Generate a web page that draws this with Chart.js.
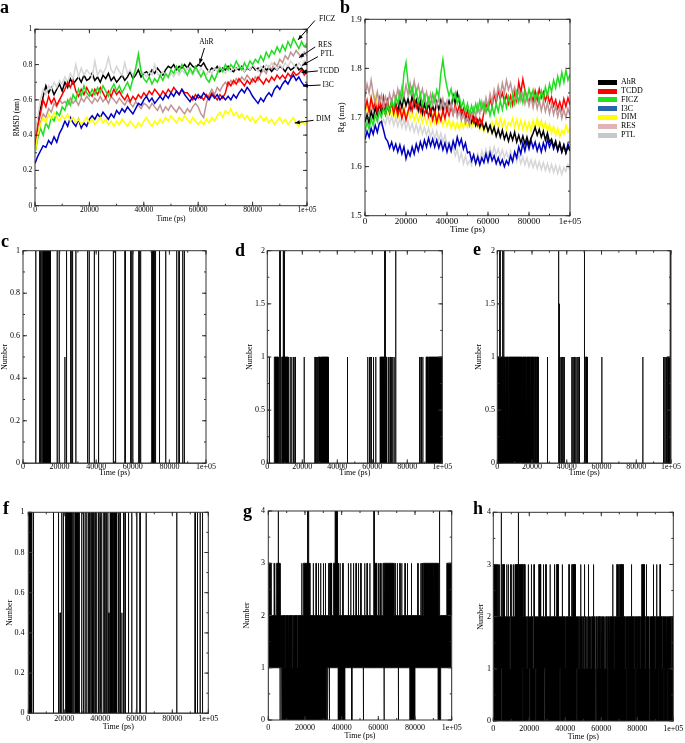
<!DOCTYPE html>
<html>
<head>
<meta charset="utf-8">
<script src="https://cdn.jsdelivr.net/npm/chart.js@4.4.1/dist/chart.umd.min.js"></script>
<style>
    body { margin: 0; background: #fff; }
    #page { position: relative; width: 685px; height: 743px; overflow: hidden; font-family: "Liberation Serif", serif; }
    #page canvas { position: absolute; }
    .tag { position: absolute; font-weight: bold; font-size: 18px; line-height: 1; }
    .leg { position: absolute; font-size: 8px; line-height: 8px; }
    .sw { position: absolute; width: 19px; height: 5px; }
</style>
</head>
<body>
<div id="page"></div>
<script>
// Temps (ps) : une image toutes les 1000 ps
const frameTimes = [];
for (let i = 0; i <= 100; i++) frameTimes.push(i * 1000);

const timeTickLabels = ["0", "20000", "40000", "60000", "80000", "1e+05"];
const rmsdTickLabels = ["0", "0.2", "0.4", "0.6", "0.8", "1"];
const rgTickLabels = ["1.5", "1.6", "1.7", "1.8", "1.9"];
const unitTickLabels = ["0", "0.2", "0.4", "0.6", "0.8", "1"];
const halfTickLabels = ["0", "0.5", "1", "1.5", "2"];
const fourTickLabels = ["0", "1", "2", "3", "4"];

const seriesNames = ["AhR", "TCDD", "FICZ", "I3C", "DIM", "RES", "PTL"];
const lineColors = ["#000000", "#ff0000", "#22dd22", "#0000c0", "#ffff00", "#c09494", "#d6d6d6"];
const legendColors = ["#000000", "#ff0000", "#22e022", "#2b64a8", "#ffff00", "#e0b4b4", "#c8c8c8"];
// ordre de tracé (1 = dessus)
const rmsdOrder = [6, 4, 3, 2, 1, 7, 5];
const rgOrder = [4, 3, 1, 6, 5, 2, 7];

// RMSD (nm)
const rmsdAhR = [0.35, 0.48, 0.55, 0.62, 0.68, 0.64, 0.67, 0.63, 0.66, 0.69, 0.65,
    0.70, 0.67, 0.72, 0.69, 0.71, 0.73, 0.70, 0.74, 0.71, 0.72,
    0.75, 0.71, 0.73, 0.70, 0.74, 0.72, 0.75, 0.71, 0.73, 0.70,
    0.72, 0.74, 0.71, 0.73, 0.76, 0.72, 0.74, 0.77, 0.73, 0.75,
    0.76, 0.74, 0.77, 0.75, 0.78, 0.76, 0.74, 0.77, 0.79, 0.78,
    0.80, 0.77, 0.79, 0.78, 0.80, 0.78, 0.81, 0.79, 0.78, 0.80,
    0.79, 0.81, 0.78, 0.76, 0.78, 0.77, 0.79, 0.76, 0.78, 0.77,
    0.79, 0.77, 0.76, 0.78, 0.77, 0.79, 0.76, 0.78, 0.77, 0.79,
    0.77, 0.78, 0.76, 0.79, 0.77, 0.78, 0.76, 0.78, 0.77, 0.79,
    0.78, 0.76, 0.79, 0.77, 0.78, 0.80, 0.77, 0.78, 0.76, 0.77];
const rmsdTCDD = [0.33, 0.45, 0.52, 0.60, 0.56, 0.62, 0.58, 0.61, 0.57, 0.60, 0.63,
    0.66, 0.70, 0.67, 0.71, 0.65, 0.62, 0.66, 0.63, 0.67, 0.64,
    0.62, 0.66, 0.63, 0.67, 0.64, 0.61, 0.65, 0.62, 0.66, 0.63,
    0.65, 0.62, 0.60, 0.63, 0.59, 0.62, 0.60, 0.63, 0.61, 0.64,
    0.62, 0.65, 0.63, 0.66, 0.64, 0.62, 0.65, 0.63, 0.66, 0.64,
    0.67, 0.65, 0.63, 0.66, 0.64, 0.64, 0.62, 0.60, 0.63, 0.61,
    0.62, 0.60, 0.63, 0.61, 0.64, 0.62, 0.60, 0.63, 0.61, 0.64,
    0.70, 0.68, 0.71, 0.69, 0.72, 0.70, 0.68, 0.71, 0.69, 0.72,
    0.70, 0.73, 0.71, 0.69, 0.72, 0.70, 0.73, 0.71, 0.74, 0.72,
    0.74, 0.72, 0.75, 0.73, 0.76, 0.74, 0.75, 0.77, 0.74, 0.76];
const rmsdFICZ = [0.30, 0.38, 0.44, 0.40, 0.47, 0.44, 0.50, 0.48, 0.53, 0.51, 0.56,
    0.54, 0.60, 0.57, 0.63, 0.60, 0.66, 0.62, 0.68, 0.64, 0.62,
    0.66, 0.63, 0.67, 0.64, 0.68, 0.65, 0.62, 0.66, 0.69, 0.65,
    0.68, 0.64, 0.67, 0.70, 0.66, 0.72, 0.78, 0.86, 0.76, 0.72,
    0.70, 0.73, 0.69, 0.72, 0.70, 0.74, 0.71, 0.75, 0.73, 0.77,
    0.75, 0.79, 0.76, 0.80, 0.77, 0.74, 0.78, 0.75, 0.79, 0.76,
    0.73, 0.76, 0.72, 0.70, 0.74, 0.71, 0.75, 0.78, 0.76, 0.80,
    0.77, 0.80, 0.78, 0.82, 0.79, 0.77, 0.81, 0.78, 0.82, 0.80,
    0.83, 0.81, 0.85, 0.82, 0.87, 0.84, 0.88, 0.86, 0.90, 0.87,
    0.91, 0.88, 0.93, 0.90, 0.95, 0.92, 0.89, 0.93, 0.90, 0.92];
const rmsdI3C = [0.24, 0.28, 0.31, 0.34, 0.33, 0.37, 0.35, 0.39, 0.36, 0.41, 0.44,
    0.48, 0.45, 0.50, 0.47, 0.45, 0.49, 0.44, 0.47, 0.45, 0.49,
    0.51, 0.49, 0.52, 0.50, 0.53, 0.51, 0.49, 0.52, 0.50, 0.54,
    0.52, 0.55, 0.53, 0.56, 0.54, 0.52, 0.55, 0.58, 0.57, 0.60,
    0.62, 0.59, 0.61, 0.58, 0.60, 0.62, 0.60, 0.63, 0.61, 0.64,
    0.62, 0.65, 0.63, 0.66, 0.63, 0.61, 0.59, 0.62, 0.60, 0.63,
    0.61, 0.64, 0.62, 0.60, 0.63, 0.61, 0.63, 0.60, 0.62, 0.60,
    0.62, 0.60, 0.63, 0.61, 0.64, 0.66, 0.64, 0.67, 0.65, 0.62,
    0.60, 0.58, 0.61, 0.59, 0.62, 0.64, 0.62, 0.66, 0.68, 0.66,
    0.69, 0.71, 0.69, 0.72, 0.74, 0.71, 0.73, 0.70, 0.68, 0.69];
const rmsdDIM = [0.30, 0.40, 0.46, 0.50, 0.47, 0.52, 0.49, 0.53, 0.50, 0.48, 0.51,
    0.49, 0.52, 0.48, 0.50, 0.47, 0.49, 0.46, 0.48, 0.50, 0.47,
    0.49, 0.46, 0.48, 0.50, 0.47, 0.49, 0.46, 0.48, 0.45, 0.48,
    0.46, 0.49, 0.47, 0.45, 0.48, 0.46, 0.44, 0.47, 0.45, 0.48,
    0.50, 0.47, 0.45, 0.48, 0.46, 0.49, 0.47, 0.50, 0.48, 0.51,
    0.49, 0.47, 0.50, 0.48, 0.51, 0.49, 0.47, 0.50, 0.48, 0.46,
    0.48, 0.46, 0.49, 0.47, 0.50, 0.48, 0.51, 0.53, 0.50, 0.54,
    0.52, 0.55, 0.51, 0.53, 0.50, 0.52, 0.49, 0.51, 0.48, 0.50,
    0.47, 0.49, 0.51, 0.48, 0.50, 0.47, 0.49, 0.46, 0.48, 0.50,
    0.47, 0.49, 0.46, 0.48, 0.50, 0.47, 0.45, 0.48, 0.46, 0.48];
const rmsdRES = [0.30, 0.40, 0.47, 0.52, 0.50, 0.55, 0.53, 0.58, 0.56, 0.60, 0.58,
    0.59, 0.57, 0.61, 0.58, 0.60, 0.57, 0.61, 0.59, 0.62, 0.60,
    0.58, 0.61, 0.59, 0.62, 0.59, 0.61, 0.58, 0.62, 0.60, 0.58,
    0.61, 0.59, 0.57, 0.60, 0.58, 0.56, 0.59, 0.57, 0.55, 0.58,
    0.57, 0.55, 0.58, 0.56, 0.54, 0.57, 0.53, 0.56, 0.54, 0.57,
    0.55, 0.53, 0.56, 0.54, 0.52, 0.55, 0.53, 0.56, 0.58, 0.56,
    0.52, 0.50, 0.58, 0.63, 0.66, 0.63, 0.67, 0.65, 0.68, 0.70,
    0.68, 0.71, 0.69, 0.72, 0.70, 0.73, 0.71, 0.74, 0.72, 0.70,
    0.73, 0.71, 0.75, 0.77, 0.75, 0.79, 0.77, 0.81, 0.79, 0.83,
    0.81, 0.85, 0.83, 0.87, 0.85, 0.88, 0.86, 0.84, 0.87, 0.85];
const rmsdPTL = [0.36, 0.50, 0.60, 0.66, 0.63, 0.68, 0.66, 0.70, 0.67, 0.71, 0.69,
    0.73, 0.70, 0.75, 0.72, 0.80, 0.73, 0.78, 0.74, 0.77, 0.75,
    0.73, 0.82, 0.74, 0.77, 0.75, 0.78, 0.84, 0.77, 0.75, 0.79,
    0.76, 0.74, 0.81, 0.75, 0.77, 0.74, 0.76, 0.83, 0.77, 0.75,
    0.73, 0.76, 0.74, 0.80, 0.75, 0.73, 0.76, 0.74, 0.72, 0.75,
    0.73, 0.76, 0.74, 0.77, 0.75, 0.78, 0.76, 0.74, 0.77, 0.75,
    0.78, 0.76, 0.74, 0.77, 0.75, 0.78, 0.76, 0.79, 0.77, 0.75,
    0.78, 0.76, 0.79, 0.77, 0.80, 0.78, 0.76, 0.79, 0.77, 0.80,
    0.78, 0.76, 0.79, 0.77, 0.80, 0.78, 0.81, 0.79, 0.77, 0.80,
    0.78, 0.81, 0.79, 0.82, 0.80, 0.78, 0.81, 0.79, 0.82, 0.80];

// Rayon de giration (nm)
const rgAhR = [1.690, 1.705, 1.688, 1.712, 1.698, 1.720, 1.705, 1.728, 1.710, 1.722, 1.706,
    1.725, 1.710, 1.734, 1.716, 1.728, 1.712, 1.737, 1.720, 1.742, 1.724,
    1.738, 1.718, 1.745, 1.722, 1.736, 1.714, 1.733, 1.708, 1.728, 1.712,
    1.730, 1.706, 1.724, 1.710, 1.732, 1.716, 1.735, 1.712, 1.728, 1.718,
    1.734, 1.720, 1.745, 1.728, 1.750, 1.732, 1.718, 1.706, 1.712, 1.696,
    1.708, 1.690, 1.702, 1.684, 1.695, 1.680, 1.692, 1.676, 1.688, 1.672,
    1.684, 1.668, 1.680, 1.662, 1.676, 1.660, 1.674, 1.656, 1.668, 1.652,
    1.668, 1.654, 1.670, 1.650, 1.664, 1.648, 1.662, 1.646, 1.660, 1.644,
    1.658, 1.668, 1.680, 1.664, 1.676, 1.660, 1.672, 1.654, 1.668, 1.650,
    1.656, 1.640, 1.652, 1.634, 1.648, 1.630, 1.644, 1.628, 1.640, 1.632];
const rgTCDD = [1.715, 1.735, 1.712, 1.740, 1.718, 1.732, 1.710, 1.738, 1.716, 1.742, 1.720,
    1.736, 1.714, 1.730, 1.708, 1.726, 1.704, 1.720, 1.698, 1.716, 1.695,
    1.712, 1.730, 1.714, 1.738, 1.720, 1.732, 1.712, 1.726, 1.706, 1.720,
    1.702, 1.716, 1.695, 1.712, 1.690, 1.708, 1.694, 1.714, 1.698, 1.718,
    1.704, 1.722, 1.706, 1.726, 1.710, 1.724, 1.706, 1.718, 1.700, 1.714,
    1.696, 1.708, 1.690, 1.702, 1.684, 1.698, 1.686, 1.712, 1.728, 1.716,
    1.738, 1.722, 1.748, 1.730, 1.756, 1.738, 1.750, 1.732, 1.746, 1.728,
    1.744, 1.726, 1.752, 1.734, 1.772, 1.750, 1.778, 1.756, 1.742, 1.730,
    1.748, 1.732, 1.754, 1.736, 1.758, 1.740, 1.752, 1.734, 1.748, 1.730,
    1.742, 1.724, 1.736, 1.718, 1.732, 1.716, 1.738, 1.722, 1.740, 1.726];
const rgFICZ = [1.672, 1.690, 1.676, 1.698, 1.684, 1.706, 1.692, 1.712, 1.700, 1.718, 1.706,
    1.726, 1.712, 1.734, 1.720, 1.742, 1.728, 1.752, 1.738, 1.790, 1.812,
    1.770, 1.748, 1.762, 1.740, 1.756, 1.732, 1.748, 1.726, 1.744, 1.722,
    1.740, 1.726, 1.748, 1.732, 1.756, 1.742, 1.790, 1.818, 1.784, 1.762,
    1.744, 1.758, 1.736, 1.750, 1.728, 1.742, 1.720, 1.734, 1.712, 1.728,
    1.706, 1.724, 1.708, 1.728, 1.712, 1.734, 1.716, 1.730, 1.710, 1.726,
    1.704, 1.722, 1.706, 1.728, 1.712, 1.734, 1.716, 1.738, 1.720, 1.742,
    1.724, 1.746, 1.728, 1.752, 1.732, 1.748, 1.730, 1.754, 1.736, 1.758,
    1.740, 1.756, 1.736, 1.750, 1.732, 1.754, 1.738, 1.762, 1.744, 1.768,
    1.752, 1.776, 1.760, 1.784, 1.766, 1.792, 1.772, 1.796, 1.776, 1.788];
const rgI3C = [1.655, 1.672, 1.660, 1.678, 1.666, 1.684, 1.670, 1.688, 1.692, 1.675, 1.658,
    1.652, 1.638, 1.650, 1.634, 1.646, 1.630, 1.644, 1.626, 1.640, 1.616,
    1.632, 1.622, 1.640, 1.626, 1.646, 1.632, 1.650, 1.636, 1.654, 1.640,
    1.658, 1.642, 1.656, 1.640, 1.654, 1.638, 1.652, 1.634, 1.648, 1.630,
    1.646, 1.632, 1.652, 1.638, 1.660, 1.644, 1.656, 1.636, 1.648, 1.628,
    1.630, 1.612, 1.624, 1.606, 1.620, 1.604, 1.618, 1.608, 1.626, 1.610,
    1.628, 1.612, 1.622, 1.606, 1.618, 1.604, 1.614, 1.600, 1.612, 1.604,
    1.622, 1.610, 1.630, 1.618, 1.640, 1.626, 1.648, 1.632, 1.652, 1.636,
    1.654, 1.638, 1.650, 1.632, 1.646, 1.630, 1.648, 1.634, 1.656, 1.640,
    1.652, 1.636, 1.648, 1.632, 1.646, 1.630, 1.644, 1.628, 1.646, 1.634];
const rgDIM = [1.705, 1.728, 1.712, 1.740, 1.722, 1.746, 1.730, 1.742, 1.720, 1.712, 1.705,
    1.722, 1.704, 1.718, 1.700, 1.716, 1.698, 1.714, 1.702, 1.720, 1.704,
    1.716, 1.698, 1.712, 1.694, 1.708, 1.692, 1.706, 1.690, 1.704, 1.688,
    1.702, 1.686, 1.704, 1.688, 1.706, 1.690, 1.702, 1.684, 1.698, 1.682,
    1.696, 1.678, 1.692, 1.676, 1.690, 1.676, 1.692, 1.678, 1.694, 1.680,
    1.696, 1.680, 1.698, 1.682, 1.694, 1.676, 1.690, 1.672, 1.686, 1.670,
    1.676, 1.690, 1.674, 1.696, 1.680, 1.698, 1.682, 1.694, 1.676, 1.690,
    1.684, 1.698, 1.680, 1.696, 1.678, 1.694, 1.676, 1.692, 1.674, 1.690,
    1.672, 1.694, 1.678, 1.698, 1.680, 1.694, 1.676, 1.690, 1.672, 1.686,
    1.668, 1.682, 1.664, 1.678, 1.660, 1.674, 1.666, 1.684, 1.670, 1.680];
const rgRES = [1.742, 1.768, 1.750, 1.776, 1.748, 1.730, 1.752, 1.728, 1.746, 1.722, 1.742,
    1.726, 1.748, 1.730, 1.752, 1.734, 1.758, 1.738, 1.762, 1.742, 1.766,
    1.746, 1.770, 1.748, 1.774, 1.750, 1.766, 1.744, 1.758, 1.736, 1.752,
    1.730, 1.748, 1.726, 1.744, 1.722, 1.740, 1.718, 1.738, 1.716, 1.734,
    1.712, 1.728, 1.706, 1.720, 1.700, 1.714, 1.694, 1.708, 1.688, 1.700,
    1.684, 1.706, 1.720, 1.704, 1.726, 1.708, 1.732, 1.714, 1.740, 1.722,
    1.748, 1.730, 1.756, 1.738, 1.764, 1.744, 1.770, 1.750, 1.776, 1.756,
    1.770, 1.748, 1.762, 1.740, 1.756, 1.734, 1.750, 1.728, 1.746, 1.724,
    1.742, 1.720, 1.740, 1.718, 1.736, 1.714, 1.734, 1.712, 1.730, 1.708,
    1.728, 1.706, 1.724, 1.702, 1.720, 1.698, 1.716, 1.700, 1.718, 1.704];
const rgPTL = [1.692, 1.712, 1.700, 1.722, 1.706, 1.728, 1.702, 1.690, 1.684, 1.696, 1.686,
    1.704, 1.688, 1.702, 1.684, 1.700, 1.682, 1.698, 1.680, 1.694, 1.676,
    1.692, 1.674, 1.688, 1.670, 1.686, 1.668, 1.684, 1.666, 1.680, 1.664,
    1.678, 1.660, 1.674, 1.656, 1.672, 1.654, 1.668, 1.650, 1.664, 1.646,
    1.650, 1.630, 1.642, 1.622, 1.634, 1.612, 1.628, 1.606, 1.622, 1.604,
    1.612, 1.602, 1.620, 1.606, 1.626, 1.610, 1.632, 1.616, 1.636, 1.620,
    1.638, 1.622, 1.640, 1.624, 1.636, 1.620, 1.634, 1.618, 1.630, 1.616,
    1.632, 1.614, 1.628, 1.610, 1.624, 1.606, 1.620, 1.604, 1.618, 1.600,
    1.614, 1.598, 1.612, 1.596, 1.610, 1.594, 1.608, 1.592, 1.606, 1.590,
    1.604, 1.588, 1.602, 1.586, 1.600, 1.584, 1.598, 1.590, 1.604, 1.592];

// Liaisons hydrogène : [début (ps), fin (ps), min, max] ; hors de ces plages on garde la base
const cBase = [0, 0];
const cSpans = [[6900, 7050, 0, 1], [8800, 8950, 0, 1], [9100, 9250, 0, 0.5], [9700, 9850, 0, 1],
    [10600, 15000, 0, 1], [18600, 18750, 0, 1], [19700, 19850, 0, 1], [22800, 22950, 0, 0.5],
    [23700, 23850, 0, 1], [26100, 26250, 0, 1], [27000, 27150, 0, 1], [28800, 28950, 0, 1],
    [35200, 35350, 0, 1], [36100, 36250, 0, 1], [38900, 39050, 0, 1], [41200, 41350, 0, 1],
    [49300, 49450, 0, 1], [50500, 50650, 0, 1], [55700, 55850, 0, 1], [58900, 59050, 0, 1],
    [59900, 60050, 0, 1], [63300, 63450, 0, 1], [64200, 64350, 0, 1], [70300, 70500, 0, 1],
    [70800, 71100, 0, 1], [71400, 71700, 0, 1], [72300, 72500, 0, 1], [74500, 74650, 0, 1],
    [77900, 78050, 0, 1], [83900, 84050, 0, 1], [85200, 85350, 0, 1], [87200, 87350, 0, 1],
    [88100, 88250, 0, 1]];

const dBase = [0, 0];
const dSpans = [[1100, 1250, 0, 1], [4000, 6300, 0, 1], [6900, 7050, 0, 1], [7200, 7350, 0, 2],
    [8200, 9100, 0, 1], [9100, 9700, 0, 2], [9700, 12000, 0, 1], [13000, 13150, 0, 1],
    [13900, 14050, 0, 1], [14900, 15050, 0, 1], [15800, 15950, 0, 1], [21000, 21150, 0, 1],
    [27200, 27400, 0, 1], [27900, 28100, 0, 1], [28500, 28700, 0, 1], [29100, 30400, 0, 1],
    [30700, 34900, 0, 1], [45700, 45900, 0, 1], [57300, 57450, 0, 1], [58300, 58450, 0, 1],
    [59200, 59350, 0, 1], [60600, 60750, 0, 1], [61900, 62050, 0, 1], [64400, 66900, 0, 1],
    [66900, 67100, 0, 2], [67100, 67400, 0, 1], [67400, 67600, 0, 2], [67600, 68200, 0, 1],
    [69100, 69250, 0, 1], [70100, 70250, 0, 1], [70900, 71100, 0, 1], [71600, 71750, 0, 1],
    [72400, 72550, 0, 1], [73300, 73450, 0, 2], [86900, 87050, 0, 1], [87800, 87950, 0, 1],
    [88800, 88950, 0, 1], [90700, 91900, 0, 1], [92300, 100000, 0, 1]];

const eBase = [0, 0];
const eSpans = [[0, 1400, 0, 1], [1400, 1600, 0, 2], [1600, 3000, 0, 1], [3000, 3150, 0, 2],
    [3150, 3650, 0, 1], [3650, 3800, 0, 2], [3800, 4600, 0, 1], [4900, 6200, 0, 1],
    [6500, 14500, 0, 1], [14800, 16700, 0, 1], [17000, 19000, 0, 1], [19300, 21000, 0, 1],
    [21300, 22200, 0, 1], [22500, 23600, 0, 1], [28800, 28950, 0, 1], [35100, 35250, 0, 2],
    [35500, 35650, 0, 1.5], [36100, 36250, 0, 1], [36900, 37050, 0, 1], [37700, 37850, 0, 1],
    [38500, 38700, 0, 1], [42800, 42950, 0, 1], [43400, 43550, 0, 1], [44000, 44150, 0, 1],
    [44600, 44750, 0, 1], [45700, 45850, 0, 1], [46300, 46450, 0, 1], [47000, 47200, 0, 1],
    [50100, 50250, 0, 2], [50700, 51800, 0, 1], [60100, 60250, 0, 1], [83700, 83850, 0, 1],
    [95600, 95750, 0, 1], [96300, 96450, 0, 1], [97100, 97250, 0, 1], [97800, 99000, 0, 1],
    [99500, 99650, 0, 2]];

const fBase = [0, 0];
const fSpans = [[400, 1900, 0, 1], [2800, 2950, 0, 1], [13900, 14050, 0, 1], [16700, 16850, 0, 1],
    [17600, 17750, 0, 0.5], [18500, 18650, 0, 1], [19400, 19550, 0, 1], [20400, 20550, 0, 1],
    [20900, 21050, 0, 1], [21300, 22000, 0, 1], [22000, 22150, 0, 0.5], [22150, 24100, 0, 1],
    [24600, 24750, 0, 1], [25200, 25350, 0, 1], [25900, 27800, 0, 1], [28300, 28450, 0, 1],
    [29600, 29750, 0, 1], [30600, 30750, 0, 1], [31500, 31650, 0, 1], [32400, 32550, 0, 1],
    [33300, 33500, 0, 1], [33900, 34100, 0, 1], [34600, 34800, 0, 1], [35200, 35400, 0, 1],
    [35900, 36100, 0, 1], [37000, 37150, 0, 1], [37900, 38050, 0, 1], [38900, 39050, 0, 1],
    [39800, 39950, 0, 1], [40700, 40850, 0, 1], [42000, 42150, 0, 1], [43100, 43250, 0, 1],
    [44100, 44250, 0, 1], [44700, 44850, 0, 0.5], [45400, 47000, 0, 1], [47300, 49100, 0, 1],
    [50000, 50150, 0, 1], [50900, 51050, 0, 1], [51900, 52050, 0, 0.5], [52800, 52950, 0, 1],
    [53700, 53850, 0, 1], [55600, 55750, 0, 1], [57400, 57550, 0, 1], [60200, 60350, 0, 1],
    [62000, 62150, 0, 1], [65400, 65550, 0, 1], [82400, 82550, 0, 1], [92600, 92750, 0, 1],
    [93900, 94050, 0, 1], [95400, 95550, 0, 1], [96700, 96850, 0, 1]];

const gBase = [1, 2];
const gSpans = [[300, 450, 1, 3], [900, 1050, 1, 3], [1500, 1650, 1, 3], [3100, 3250, 1, 3],
    [3500, 3650, 1, 3], [4500, 5400, 1, 3], [5400, 5550, 1, 4], [5550, 6400, 1, 3],
    [6400, 6550, 0, 2], [7300, 7450, 0, 2], [7800, 9000, 0, 2], [9000, 9400, 0, 1],
    [9400, 10800, 0, 2], [10800, 11200, 0, 1], [11200, 12700, 0, 2], [12700, 13100, 0, 1],
    [13100, 13600, 0, 2], [13600, 14000, 0, 1], [14000, 15400, 0, 2], [15400, 15800, 0, 1],
    [15800, 18200, 0, 2], [18200, 18350, 0, 3], [18350, 19100, 0, 2], [19100, 21300, 0, 3],
    [21300, 21450, 0, 4], [21450, 21900, 0, 3], [21900, 22050, 0, 4], [22050, 22700, 0, 3],
    [22700, 24500, 0, 2], [24500, 24650, 0, 3], [24650, 26000, 0, 2], [26000, 26150, 0, 3],
    [26150, 27300, 0, 2], [27300, 27450, 0, 3], [27450, 28500, 0, 2], [28500, 28650, 0, 3],
    [28650, 30000, 0, 2], [30000, 30150, 0, 3], [30150, 31100, 0, 2], [31100, 31250, 0, 3],
    [31250, 31800, 0, 2], [32100, 32250, 0, 2], [32800, 32950, 1, 3], [33100, 33250, 0, 2],
    [33600, 34500, 1, 3], [35500, 36400, 1, 3], [36400, 37600, 1, 4], [37600, 38200, 1, 3],
    [38200, 39100, 0, 2], [39100, 39250, 0, 3], [39250, 40600, 0, 2], [40600, 40750, 0, 3],
    [40750, 41800, 0, 2], [43600, 43750, 1, 3], [44900, 45050, 1, 3], [45500, 45650, 0, 2],
    [46400, 46550, 1, 3], [47800, 47950, 1, 3], [49100, 49250, 1, 3], [50400, 50550, 1, 3],
    [51800, 51950, 0, 2], [52500, 52650, 1, 3], [53800, 53950, 1, 3], [55300, 55450, 1, 3],
    [57300, 57600, 1, 3], [57600, 57750, 1, 4], [57750, 59100, 1, 3], [60000, 60150, 1, 3],
    [60900, 61050, 1, 3], [61800, 61950, 1, 3], [62700, 63100, 1, 3], [63100, 63250, 0, 3],
    [63250, 68200, 1, 3], [69000, 69150, 1, 3], [70300, 70450, 1, 3], [70900, 71050, 0, 2],
    [71700, 71850, 1, 3], [72700, 72850, 1, 3], [74500, 74650, 1, 3], [75800, 75950, 1, 3],
    [77300, 78000, 0, 2], [78000, 78150, 0, 3], [78150, 80000, 0, 2], [81500, 81650, 1, 3],
    [83100, 83250, 1, 3], [83800, 83950, 1, 3], [84500, 87200, 1, 3], [87400, 89900, 1, 3],
    [90100, 92700, 1, 3], [92700, 93300, 0, 2], [93300, 93450, 0, 4], [93450, 94000, 0, 2],
    [97300, 100000, 1, 3]];

const hBase = [0, 2];
const hSpans = [[0, 2200, 0, 3], [2800, 2950, 0, 3], [3400, 3550, 0, 3], [4300, 4450, 0, 4],
    [4600, 5000, 1, 2], [5000, 6200, 0, 3], [7400, 7550, 0, 3], [8300, 8450, 0, 3],
    [8900, 9400, 0, 1], [9500, 9650, 0, 3], [10100, 10250, 0, 3], [11100, 11250, 0, 3],
    [12000, 13800, 0, 3], [13900, 14050, 0, 4], [14050, 16200, 0, 3], [16200, 16600, 1, 2],
    [16600, 17600, 0, 3], [18300, 18800, 0, 1], [19400, 19550, 0, 3], [20000, 20500, 1, 2],
    [21100, 21250, 0, 3], [22000, 22500, 0, 1], [22600, 22750, 0, 3], [23600, 24100, 1, 2],
    [25200, 26300, 0, 3], [27800, 27950, 0, 3], [28400, 28900, 1, 2], [29200, 29350, 0, 3],
    [30400, 30900, 1, 2], [31500, 31650, 0, 3], [33900, 34050, 0, 3], [35000, 36100, 0, 3],
    [37000, 37500, 1, 2], [38300, 38450, 0, 3], [39900, 40400, 0, 1], [42000, 42150, 0, 3],
    [43500, 43650, 0, 3], [43900, 45600, 0, 3], [46400, 46900, 1, 2], [47200, 47700, 0, 1],
    [48500, 48650, 0, 3], [49200, 49700, 0, 1], [50000, 50400, 0, 1], [50700, 50850, 0, 3],
    [51300, 51700, 0, 1], [52000, 52400, 0, 1], [52800, 52950, 0, 3], [53400, 53800, 0, 1],
    [54100, 54500, 0, 1], [55600, 55750, 0, 3], [56200, 56600, 0, 1], [57000, 57400, 1, 2],
    [57600, 58000, 0, 1], [59200, 59600, 0, 1], [59900, 60300, 0, 1], [60500, 60900, 1, 2],
    [61200, 61600, 0, 1], [62000, 62400, 0, 1], [63000, 63400, 0, 1], [63500, 63900, 1, 2],
    [64400, 64800, 0, 1], [66300, 66450, 0, 3], [67000, 67400, 0, 1], [68500, 69000, 0, 3],
    [69400, 69550, 0, 3], [70000, 71500, 0, 3], [71800, 72200, 0, 3], [73000, 73400, 0, 1],
    [74000, 74400, 1, 2], [75000, 75400, 0, 1], [76700, 76850, 0, 3], [78000, 78400, 0, 1],
    [79000, 79400, 1, 2], [80000, 80400, 0, 1], [81200, 81600, 0, 1], [82400, 83900, 0, 3],
    [84000, 84400, 0, 1], [85000, 85150, 0, 3], [86300, 86700, 0, 1], [87000, 87400, 1, 2],
    [88900, 89050, 0, 3], [89600, 90000, 0, 1], [90700, 90850, 0, 3], [91500, 91900, 1, 2],
    [92600, 92750, 0, 3], [93500, 93900, 0, 1], [94800, 95200, 1, 2], [96000, 96400, 0, 1],
    [97000, 97400, 1, 2], [98500, 98900, 0, 1]];

// Étiquettes fléchées du panneau a (coordonnées en unités des axes)
const rmsdNotes = [
    { text: "FICZ", at: [107400, 1.058], from: [102900, 1.05], to: [96700, 0.94] },
    { text: "RES", at: [106600, 0.911], from: [103000, 0.90], to: [97100, 0.84] },
    { text: "PTL", at: [107400, 0.860], from: [104000, 0.845], to: [98200, 0.795] },
    { text: "TCDD", at: [108100, 0.764], from: [104000, 0.764], to: [98000, 0.755] },
    { text: "I3C", at: [107800, 0.684], from: [105000, 0.684], to: [98500, 0.679] },
    { text: "DIM", at: [106000, 0.492], from: [102400, 0.484], to: [95500, 0.469] },
    { text: "AhR", at: [63000, 0.928], from: [62300, 0.894], to: [60500, 0.805] }
];

Chart.defaults.font.family = '"Liberation Serif", "Times New Roman", serif';
Chart.defaults.color = "#000";

const page = document.getElementById("page");

// Cadre complet avec graduations vers l'intérieur (style xmgrace)
const framePlugin = {
    id: "frame",
    afterDatasetsDraw(chart, args, o) {
        const { ctx, chartArea: a, scales: { x, y } } = chart;
        ctx.save();
        ctx.strokeStyle = "#333";
        ctx.lineWidth = 1;
        ctx.strokeRect(a.left, a.top, a.right - a.left, a.bottom - a.top);
        const marks = (min, max, step, cb) => {
            const n = Math.round((max - min) / step);
            for (let i = 0; i <= n; i++) cb(min + i * step);
        };
        ctx.beginPath();
        [[o.xMajor, 4], [o.xMinor, 2]].forEach(([step, len]) => marks(x.min, x.max, step, (v) => {
            const px = x.getPixelForValue(v);
            ctx.moveTo(px, a.bottom); ctx.lineTo(px, a.bottom - len);
            ctx.moveTo(px, a.top); ctx.lineTo(px, a.top + len);
        }));
        [[o.yMajor, 4], [o.yMinor, 2]].forEach(([step, len]) => marks(y.min, y.max, step, (v) => {
            const py = y.getPixelForValue(v);
            ctx.moveTo(a.left, py); ctx.lineTo(a.left + len, py);
            ctx.moveTo(a.right, py); ctx.lineTo(a.right - len, py);
        }));
        ctx.stroke();
        ctx.restore();
    }
};

const notesPlugin = {
    id: "notes",
    afterDraw(chart, args, o) {
        const items = o.items || [];
        if (!items.length) return;
        const { ctx, scales: { x, y } } = chart;
        ctx.save();
        ctx.fillStyle = "#000";
        ctx.strokeStyle = "#000";
        ctx.lineWidth = 1;
        ctx.font = '7.5px "Liberation Serif"';
        ctx.textAlign = "center";
        ctx.textBaseline = "middle";
        items.forEach((n) => {
            ctx.fillText(n.text, x.getPixelForValue(n.at[0]), y.getPixelForValue(n.at[1]));
            const x0 = x.getPixelForValue(n.from[0]), y0 = y.getPixelForValue(n.from[1]);
            const x1 = x.getPixelForValue(n.to[0]), y1 = y.getPixelForValue(n.to[1]);
            ctx.beginPath(); ctx.moveTo(x0, y0); ctx.lineTo(x1, y1); ctx.stroke();
            const ang = Math.atan2(y1 - y0, x1 - x0), L = 5, W = 2;
            ctx.beginPath();
            ctx.moveTo(x1, y1);
            ctx.lineTo(x1 - L * Math.cos(ang) + W * Math.sin(ang), y1 - L * Math.sin(ang) - W * Math.cos(ang));
            ctx.lineTo(x1 - L * Math.cos(ang) - W * Math.sin(ang), y1 - L * Math.sin(ang) + W * Math.cos(ang));
            ctx.closePath();
            ctx.fill();
        });
        ctx.restore();
    }
};

function lineSets(arrays, order) {
    return arrays.map((arr, i) => ({
        label: seriesNames[i],
        data: frameTimes.map((t, k) => ({ x: t, y: arr[k] })),
        borderColor: lineColors[i],
        borderWidth: 1.5,
        pointRadius: 0,
        fill: false,
        order: order[i]
    }));
}

// Enveloppe du nombre de liaisons : le haut est rempli en noir jusqu'à 0,
// puis le bas est rempli en blanc par-dessus (il ne reste que la bande min–max)
function bondSets(base, spans) {
    const up = [{ x: 0, y: base[1] }];
    const dn = [{ x: 0, y: base[0] }];
    spans.forEach(([s, e, lo, hi]) => {
        up.push({ x: s, y: base[1] }, { x: s, y: hi }, { x: e, y: hi }, { x: e, y: base[1] });
        dn.push({ x: s, y: base[0] }, { x: s, y: lo }, { x: e, y: lo }, { x: e, y: base[0] });
    });
    up.push({ x: 100000, y: base[1] });
    dn.push({ x: 100000, y: base[0] });
    return [
        { data: dn, fill: "origin", backgroundColor: "#ffffff", borderColor: "#000", borderWidth: 0.8, pointRadius: 0 },
        { data: up, fill: "origin", backgroundColor: "#000000", borderColor: "#000", borderWidth: 0.8, pointRadius: 0 }
    ];
}

function makeChart(s) {
    const [l, t, r, b] = s.area;
    const [cl, ct, cr, cb] = s.canvas;
    const cv = document.createElement("canvas");
    cv.width = cr - cl;
    cv.height = cb - ct;
    cv.style.left = cl + "px";
    cv.style.top = ct + "px";
    page.appendChild(cv);
    const lh = s.font * 1.2;
    return new Chart(cv, {
        type: "line",
        data: { datasets: s.datasets },
        options: {
            responsive: false,
            animation: false,
            devicePixelRatio: 1,
            events: [],
            layout: { padding: { left: 0, top: t - ct, right: cr - r, bottom: 0 } },
            plugins: {
                legend: { display: false },
                tooltip: { enabled: false },
                frame: s.ticks,
                notes: { items: s.notes || [] }
            },
            scales: {
                x: {
                    type: "linear", min: 0, max: 100000,
                    grid: { display: false, drawTicks: false },
                    border: { display: false },
                    ticks: {
                        stepSize: 20000, autoSkip: false, maxRotation: 0,
                        padding: s.xTick - b - lh / 2,
                        font: { size: s.font },
                        callback: (v, i) => timeTickLabels[i]
                    },
                    title: {
                        display: true, text: "Time (ps)", font: { size: s.font },
                        padding: { top: 0, bottom: cb - s.xTitle - lh / 2 }
                    },
                    afterFit: (sc) => { sc.height = cb - b; sc.paddingLeft = 0; sc.paddingRight = 0; }
                },
                y: {
                    min: s.yMin, max: s.yMax,
                    grid: { display: false, drawTicks: false },
                    border: { display: false },
                    ticks: {
                        stepSize: s.yStep, autoSkip: false,
                        padding: l - s.yTick,
                        font: { size: s.font },
                        callback: (v, i) => s.yLabels[i]
                    },
                    title: {
                        display: true, text: s.yTitleText, font: { size: s.font },
                        padding: { top: s.yTitle - cl - lh / 2, bottom: 0 }
                    },
                    afterFit: (sc) => { sc.width = l - cl; sc.paddingTop = 0; sc.paddingBottom = 0; }
                }
            }
        },
        plugins: [framePlugin, notesPlugin]
    });
}

// a : RMSD
makeChart({
    canvas: [0, 14, 345, 228], area: [35, 29.3, 307, 205.7], font: 7.5,
    xTick: 210.5, xTitle: 218.7, yTick: 32.3, yTitle: 17.3,
    yMin: 0, yMax: 1, yStep: 0.2, yLabels: rmsdTickLabels, yTitleText: "RMSD (nm)",
    ticks: { xMajor: 20000, xMinor: 10000, yMajor: 0.2, yMinor: 0.1 },
    datasets: lineSets([rmsdAhR, rmsdTCDD, rmsdFICZ, rmsdI3C, rmsdDIM, rmsdRES, rmsdPTL], rmsdOrder),
    notes: rmsdNotes
});

// b : rayon de giration
makeChart({
    canvas: [334, 5, 590, 237], area: [365, 19.3, 570, 215.7], font: 9,
    xTick: 221.7, xTitle: 230, yTick: 361.7, yTitle: 342,
    yMin: 1.5, yMax: 1.9, yStep: 0.1, yLabels: rgTickLabels, yTitleText: "Rg (nm)",
    ticks: { xMajor: 20000, xMinor: 10000, yMajor: 0.1, yMinor: 0.05 },
    datasets: lineSets([rgAhR, rgTCDD, rgFICZ, rgI3C, rgDIM, rgRES, rgPTL], rgOrder)
});

// c à h : nombre de liaisons hydrogène
const bondPanels = [
    { canvas: [0, 238, 222, 481], area: [23, 250.7, 206, 463.3], xTick: 467.3, xTitle: 473, yTick: 20, yTitle: 4.5,
      yMax: 1, yStep: 0.2, yLabels: unitTickLabels, minor: 0.1, base: cBase, spans: cSpans },
    { canvas: [240, 238, 458, 481], area: [267.3, 250.7, 442.3, 463.3], xTick: 467.3, xTitle: 473, yTick: 265, yTitle: 250,
      yMax: 2, yStep: 0.5, yLabels: halfTickLabels, minor: 0.25, base: dBase, spans: dSpans },
    { canvas: [470, 238, 685, 481], area: [497.3, 250.7, 671, 463.3], xTick: 467.3, xTitle: 473, yTick: 495, yTitle: 479,
      yMax: 2, yStep: 0.5, yLabels: halfTickLabels, minor: 0.25, base: eBase, spans: eSpans },
    { canvas: [0, 498, 224, 740], area: [28.3, 512.3, 208.3, 713.3], xTick: 719.3, xTitle: 727.3, yTick: 24.5, yTitle: 10,
      yMax: 1, yStep: 0.2, yLabels: unitTickLabels, minor: 0.1, base: fBase, spans: fSpans },
    { canvas: [238, 498, 472, 743], area: [268.3, 511, 451.7, 720], xTick: 728.3, xTitle: 735.5, yTick: 265, yTitle: 247.3,
      yMax: 4, yStep: 1, yLabels: fourTickLabels, minor: 0.5, base: gBase, spans: gSpans },
    { canvas: [468, 498, 685, 743], area: [493.3, 512.3, 673.3, 721], xTick: 729.3, xTitle: 736.5, yTick: 491, yTitle: 480.7,
      yMax: 4, yStep: 1, yLabels: fourTickLabels, minor: 0.5, base: hBase, spans: hSpans }
];
bondPanels.forEach((p) => {
    makeChart({
        ...p, font: 8, yMin: 0, yTitleText: "Number",
        ticks: { xMajor: 20000, xMinor: 10000, yMajor: p.yStep, yMinor: p.minor },
        datasets: bondSets(p.base, p.spans)
    });
});

// Lettres des panneaux
const panelTags = [["a", 0, -2], ["b", 340, -2], ["c", 1, 231.5], ["d", 235, 240.8],
    ["e", 473, 240], ["f", 3, 498.5], ["g", 243, 501.6], ["h", 473, 498.8]];
panelTags.forEach(([txt, x, y]) => {
    const el = document.createElement("div");
    el.className = "tag";
    el.textContent = txt;
    el.style.left = x + "px";
    el.style.top = y + "px";
    page.appendChild(el);
});

// Légende du panneau b
seriesNames.forEach((name, i) => {
    const cy = 82.2 + i * 8.8;
    const sw = document.createElement("div");
    sw.className = "sw";
    sw.style.left = "598px";
    sw.style.top = (cy - 2.5) + "px";
    sw.style.background = legendColors[i];
    page.appendChild(sw);
    const tx = document.createElement("div");
    tx.className = "leg";
    tx.textContent = name;
    tx.style.left = "621px";
    tx.style.top = (cy - 4) + "px";
    page.appendChild(tx);
});
</script>
</body>
</html>
